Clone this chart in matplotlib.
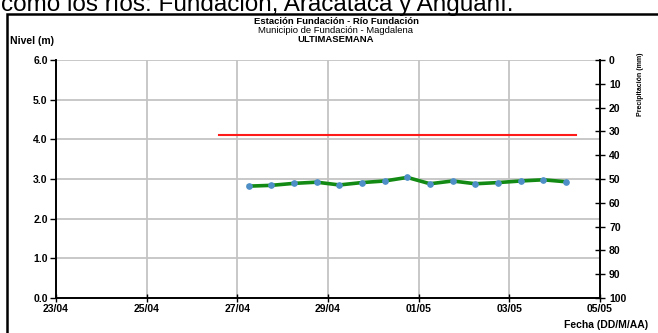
import numpy as np
import matplotlib
matplotlib.use("Agg")
import matplotlib.pyplot as plt
import matplotlib.dates as mdates

plt.rcParams["font.family"] = ["Liberation Sans", "DejaVu Sans"]

# lecturas de nivel cada 12 horas
fechas = np.array([
    "2013-04-27T06:00", "2013-04-27T18:00", "2013-04-28T06:00", "2013-04-28T18:00",
    "2013-04-29T06:00", "2013-04-29T18:00", "2013-04-30T06:00", "2013-04-30T18:00",
    "2013-05-01T06:00", "2013-05-01T18:00", "2013-05-02T06:00", "2013-05-02T18:00",
    "2013-05-03T06:00", "2013-05-03T18:00", "2013-05-04T06:00",
], dtype="datetime64[m]").astype(object)
nivel = [2.82, 2.84, 2.89, 2.92, 2.85, 2.91, 2.95, 3.04,
         2.88, 2.95, 2.88, 2.91, 2.95, 2.98, 2.93]

# nivel de alerta
alerta_fechas = np.array(["2013-04-26T14:30", "2013-05-04T11:30"],
                         dtype="datetime64[m]").astype(object)
alerta_nivel = [4.12, 4.12]

x_ini = np.datetime64("2013-04-23").astype(object)
x_fin = np.datetime64("2013-05-05").astype(object)

fig = plt.figure(figsize=(6.58, 3.33), dpi=100)

# texto del documento, cortado arriba
fig.text(1 / 658, 1 - 11.5 / 333, "como los ríos: Fundación, Aracataca y Anguaní.",
         fontsize=17.5, ha="left", va="baseline", color="black")

# marco
fig.patches.append(plt.Rectangle((7 / 658, -0.05), 1.0, 1 - 13.5 / 333 + 0.05,
                                 transform=fig.transFigure, fill=False,
                                 edgecolor="black", linewidth=1.8))

ax = fig.add_axes([56 / 658, 1 - 298 / 333, 544 / 658, 238 / 333])
ax.plot(fechas, nivel, color="#138a13", linewidth=2.6, zorder=3)
ax.plot(fechas, nivel, linestyle="none", marker="o", markersize=3.8,
        markerfacecolor="#4f8fc8", markeredgecolor="#4f8fc8", zorder=4)
ax.plot(alerta_fechas, alerta_nivel, color="#ff1a1a", linewidth=1.5, zorder=3)

ax.set_xlim(x_ini, x_fin)
ax.set_ylim(0, 6)
ax.xaxis.set_major_locator(mdates.DayLocator(interval=2))
ax.xaxis.set_major_formatter(mdates.DateFormatter("%d/%m"))
ax.set_yticks(np.arange(0, 6.1, 1.0))
ax.set_yticklabels([f"{v:.1f}" for v in np.arange(0, 6.1, 1.0)])
ax.grid(True, color="#c4c4c4", linewidth=1.3)
ax.set_axisbelow(True)
for s in ["top", "right"]:
    ax.spines[s].set_visible(False)
for s in ["left", "bottom"]:
    ax.spines[s].set_linewidth(1.4)
ax.tick_params(axis="y", direction="out", length=4, width=1, labelsize=7.5, pad=2)
ax.tick_params(axis="x", direction="inout", length=6, width=1, labelsize=7.5, pad=1)
for lab in ax.get_xticklabels() + ax.get_yticklabels():
    lab.set_fontweight("bold")

ax2 = ax.twinx()
ax2.set_ylim(100, 0)
ax2.set_yticks(np.arange(0, 101, 10))
for s in ["top", "left", "bottom"]:
    ax2.spines[s].set_visible(False)
ax2.spines["right"].set_linewidth(1.4)
ax2.tick_params(axis="y", direction="inout", length=7, width=1, labelsize=7.5, pad=3)
for lab in ax2.get_yticklabels():
    lab.set_fontweight("bold")

fig.text(641 / 658, 1 - 53 / 333, "Precipitación (mm)", rotation=90,
         fontsize=5, fontweight="bold", ha="center", va="top")

fig.text(336 / 658, 1 - 24.5 / 333, "Estación Fundación - Río Fundación",
         fontsize=6.8, fontweight="bold", ha="center", va="baseline")
fig.text(336 / 658, 1 - 33 / 333, "Municipio de Fundación - Magdalena",
         fontsize=6.8, ha="center", va="baseline")
fig.text(336 / 658, 1 - 41.5 / 333, "ULTIMASEMANA",
         fontsize=6.8, fontweight="bold", ha="center", va="baseline")
fig.text(10 / 658, 1 - 44 / 333, "Nivel (m)",
         fontsize=7.5, fontweight="bold", ha="left", va="baseline")
fig.text(648 / 658, 1 - 328 / 333, "Fecha (DD/M/AA)",
         fontsize=7.5, fontweight="bold", ha="right", va="baseline")

fig.savefig("out.png", dpi=100)
